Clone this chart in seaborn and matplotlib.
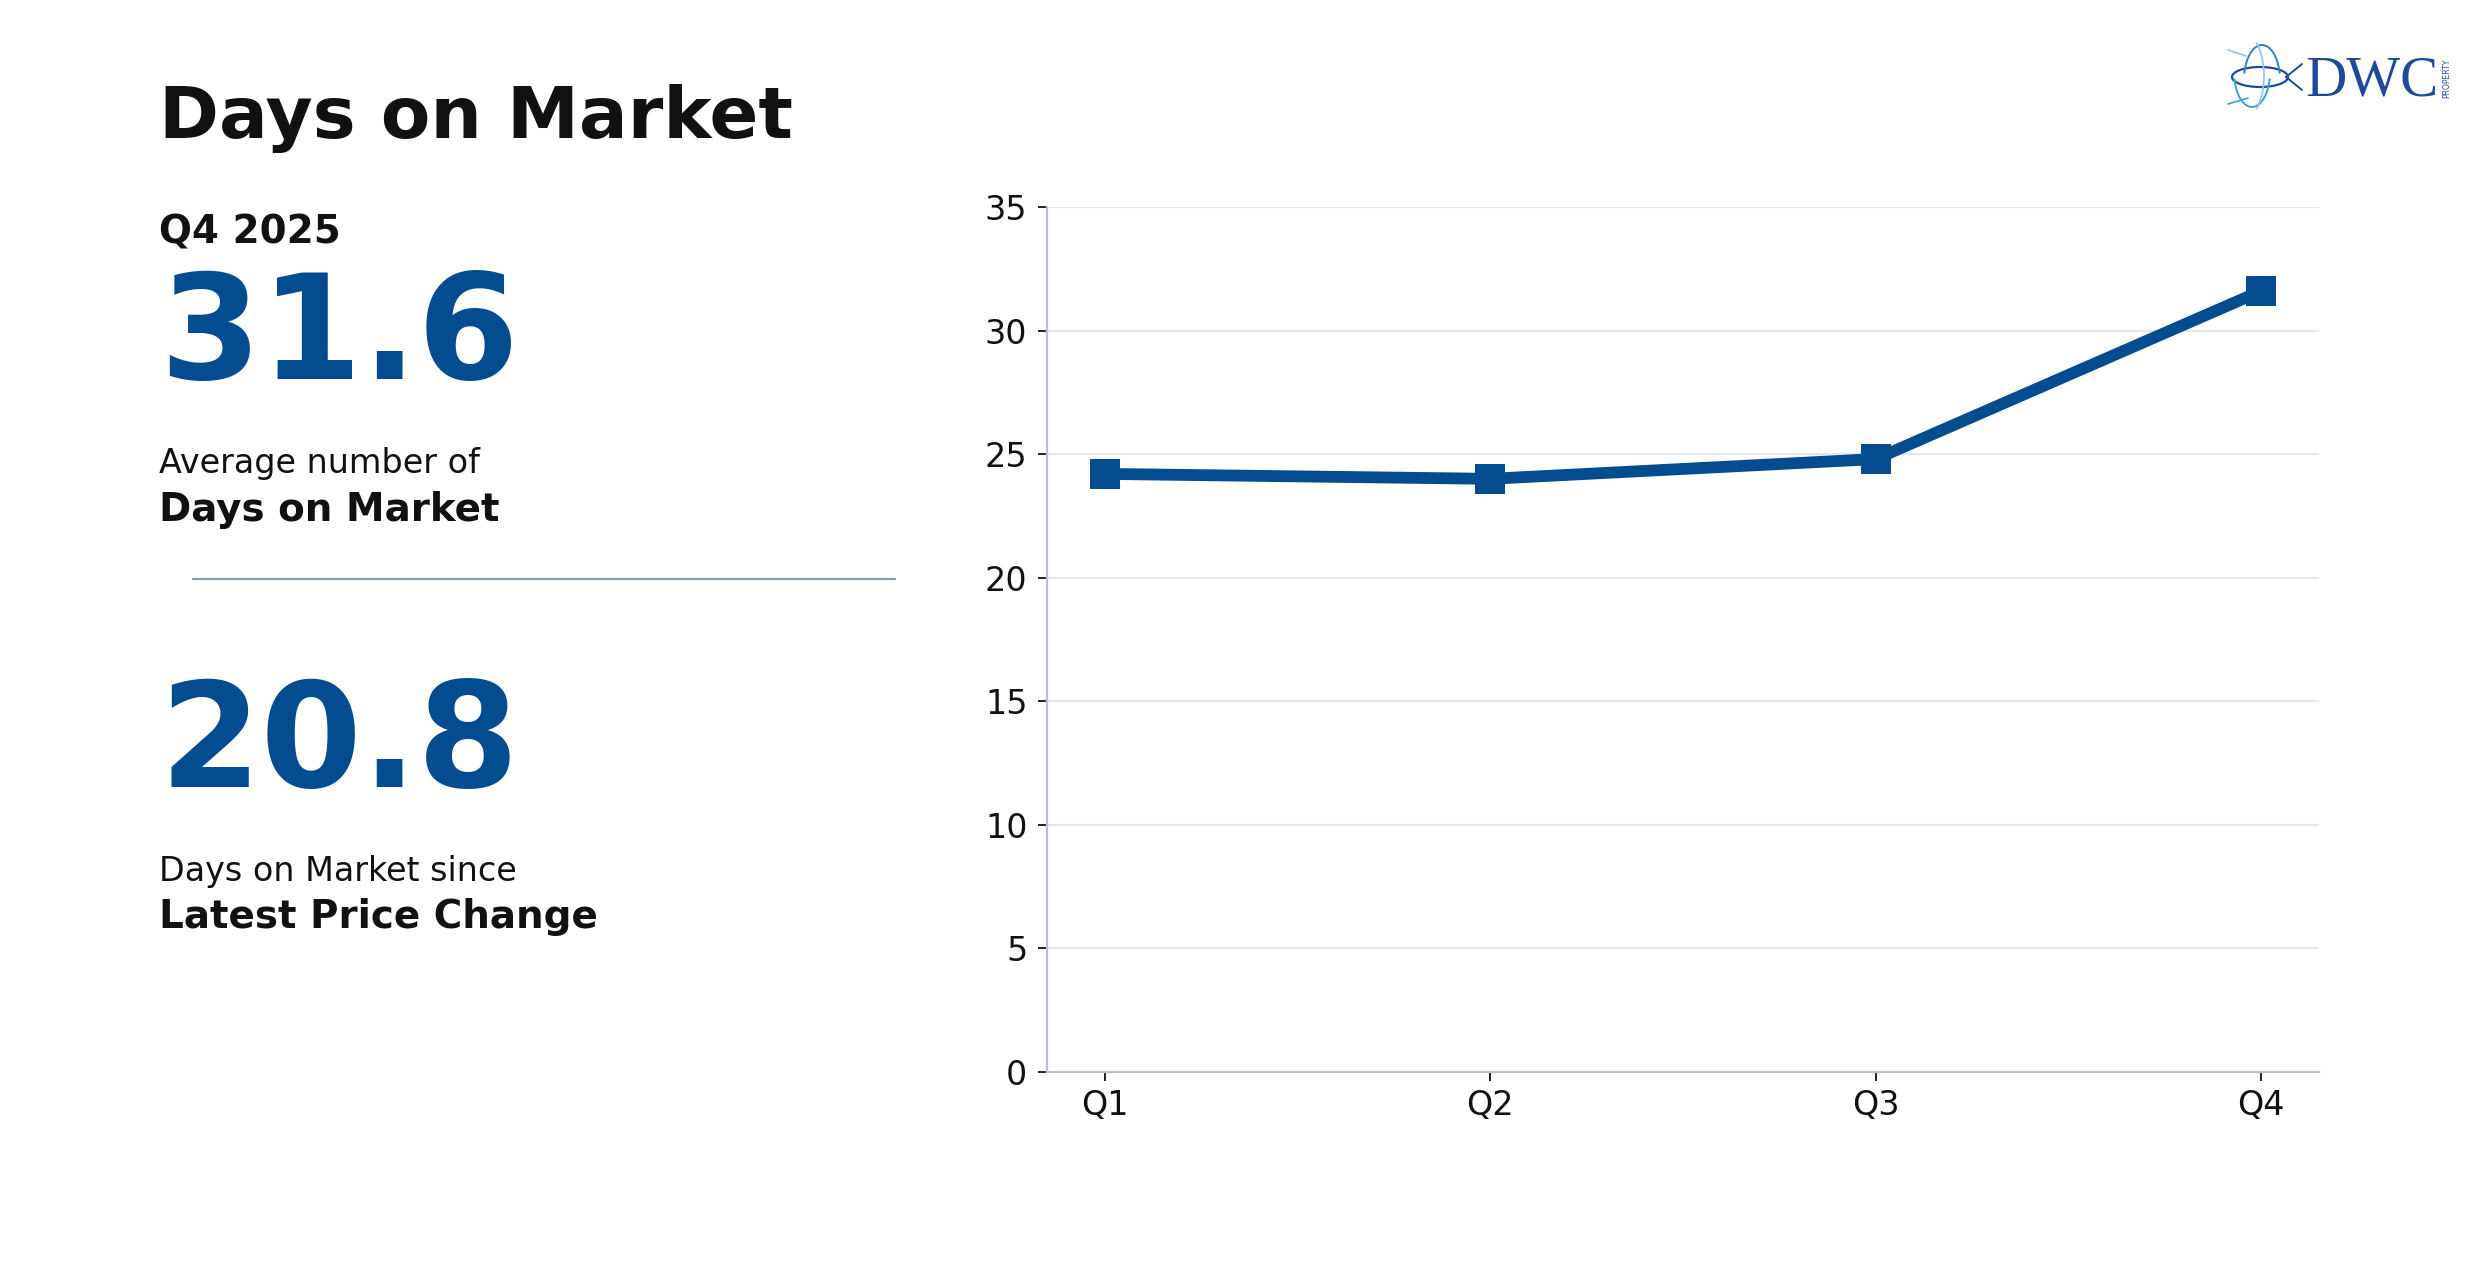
import matplotlib
matplotlib.use("Agg")
import matplotlib.pyplot as plt
import seaborn as sns
import pandas as pd
import numpy as np
from matplotlib.patches import Ellipse, Arc

# ---- data ----
quarters = ["Q1", "Q2", "Q3", "Q4"]
days_on_market = [24.2, 24.0, 24.8, 31.6]
y_ticks = [0, 5, 10, 15, 20, 25, 30, 35]

title = "Days on Market"
period_label = "Q4 2025"
kpi_main = "31.6"
kpi_main_line1 = "Average number of"
kpi_main_line2 = "Days on Market"
kpi_second = "20.8"
kpi_second_line1 = "Days on Market since"
kpi_second_line2 = "Latest Price Change"

BLUE = "#034C8F"
DARK = "#111111"

sns.set_theme(style="white")
plt.rcParams["font.family"] = ["DejaVu Sans"]

fig = plt.figure(figsize=(24.79, 12.80), dpi=100)
fig.patch.set_facecolor("white")

ax = fig.add_axes([0.4223, 0.1625, 0.5131, 0.6758])
df = pd.DataFrame({"quarter": quarters, "days": days_on_market})
sns.lineplot(data=df, x="quarter", y="days", ax=ax, color=BLUE, linewidth=8.5,
             marker="s", markersize=22, markeredgewidth=0, sort=False)

ax.set_ylim(0, 35)
ax.set_xlim(-0.15, 3.15)
ax.set_yticks(y_ticks)
ax.set_xlabel("")
ax.set_ylabel("")
ax.grid(axis="y", color="#E4E7EE", linewidth=1.6)
ax.grid(axis="x", visible=False)
ax.set_axisbelow(True)
for side in ["top", "right"]:
    ax.spines[side].set_visible(False)
for side in ["left", "bottom"]:
    ax.spines[side].set_color("#B7BFD2")
    ax.spines[side].set_linewidth(1.6)
ax.tick_params(axis="both", which="both", length=6.5, width=1.3, color=DARK,
               labelsize=24, labelcolor=DARK)
ax.tick_params(axis="y", pad=7.5, left=True)
ax.tick_params(axis="x", pad=6, bottom=True)

# ---- left panel text ----
x0 = 0.0643
fig.text(x0, 1 - 137.6 / 1280, title, fontsize=52, fontweight="bold", color=DARK, va="baseline")
fig.text(x0, 1 - 243.8 / 1280, period_label, fontsize=28, fontweight="bold", color=DARK, va="baseline")
fig.text(x0, 1 - 378.7 / 1280, kpi_main, fontsize=105, fontweight="bold", color=BLUE, va="baseline")
fig.text(x0, 1 - 473.4 / 1280, kpi_main_line1, fontsize=24, color=DARK, va="baseline")
fig.text(x0, 1 - 521.0 / 1280, kpi_main_line2, fontsize=28, fontweight="bold", color=DARK, va="baseline")
fig.add_artist(plt.Line2D([0.0778, 0.3612], [1 - 578.5 / 1280] * 2, transform=fig.transFigure,
                          color="#8E9BB4", linewidth=1.6))
fig.text(x0, 1 - 787.4 / 1280, kpi_second, fontsize=105, fontweight="bold", color=BLUE, va="baseline")
fig.text(x0, 1 - 881.0 / 1280, kpi_second_line1, fontsize=24, color=DARK, va="baseline")
fig.text(x0, 1 - 928.0 / 1280, kpi_second_line2, fontsize=28, fontweight="bold", color=DARK, va="baseline")

# ---- logo ----
lax = fig.add_axes([2222 / 2479, 1 - 120 / 1280, 84 / 2479, 86 / 1280])
lax.set_xlim(0, 84)
lax.set_ylim(0, 86)
lax.axis("off")
lax.add_patch(Ellipse((38, 43), 56, 20, fill=False, edgecolor="#1F4A9A", linewidth=1.6))
lax.add_patch(Arc((30, 48), 36, 70, theta1=200, theta2=340, edgecolor="#3AA0DA", linewidth=1.4))
lax.add_patch(Arc((40, 40), 36, 70, theta1=20, theta2=160, edgecolor="#2C83C9", linewidth=1.4))
lax.add_patch(Arc((22, 44), 40, 84, theta1=-70, theta2=70, edgecolor="#8CC6EC", linewidth=1.2))
lax.plot([6, 24], [70, 64], color="#8CC6EC", linewidth=1.2)
lax.plot([6, 26], [16, 22], color="#3AA0DA", linewidth=1.2)
lax.plot([64, 80], [43, 56], color="#1F4A9A", linewidth=1.4)
lax.plot([64, 80], [43, 30], color="#1F4A9A", linewidth=1.4)
fig.text(2305 / 2479, 1 - 95 / 1280, "DWC", fontsize=41, family="Liberation Serif",
         color="#1F4A9A", va="baseline")
fig.text(2442 / 2479, 1 - 96 / 1280, "PROPERTY", fontsize=5.5, rotation=90,
         color="#1F4A9A", va="baseline", ha="left")

fig.savefig("out.png", dpi=100, facecolor="white")
